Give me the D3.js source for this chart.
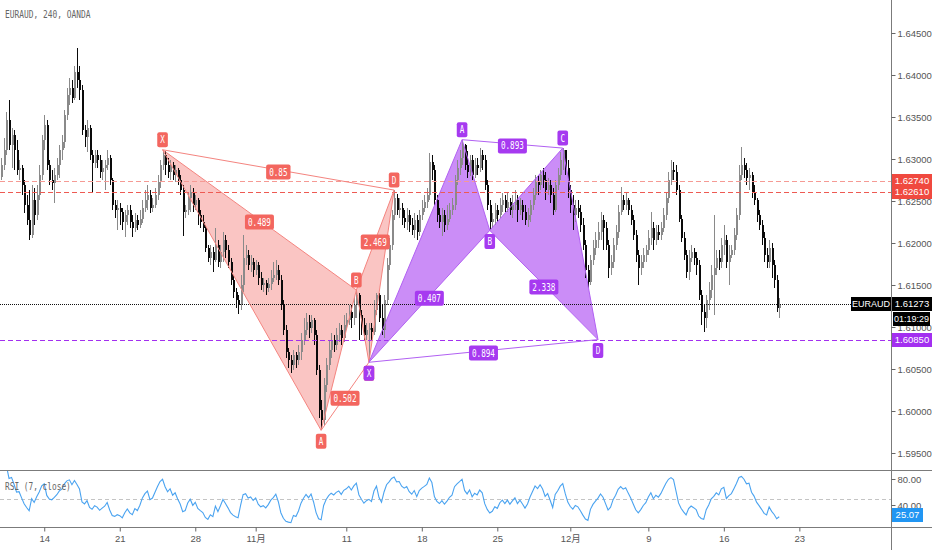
<!DOCTYPE html>
<html><head><meta charset="utf-8">
<script src="https://cdn.jsdelivr.net/npm/d3@7"></script>
<style>
body{margin:0;background:#fff;}
svg{display:block;}
text{font-family:"DejaVu Sans Mono","Noto Sans CJK JP",monospace;}
</style>
</head><body>
<svg id="c" width="932" height="550"></svg>
<script>
// ---------------- DATA ----------------
const symbolTitle = "EURAUD, 240, OANDA";
const firstOpen = 1.6279;
const closes = [
1.6293,1.6311,1.6346,1.6317,1.6329,1.6311,1.6287,1.6289,1.6269,1.6245,
1.6227,1.6209,1.6251,1.6233,1.6257,1.6281,1.6323,1.6340,1.6293,1.6275,
1.6271,1.6281,1.6293,1.6311,1.6320,1.6352,1.6376,1.6385,1.6373,1.6404,
1.6394,1.6382,1.6335,1.6326,1.6337,1.6305,1.6295,1.6305,1.6299,1.6284,
1.6289,1.6293,1.6301,1.6275,1.6245,1.6239,1.6242,1.6237,1.6225,1.6233,
1.6239,1.6225,1.6218,1.6227,1.6221,1.6229,1.6242,1.6251,1.6257,1.6242,
1.6245,1.6257,1.6273,1.6293,1.6305,1.6293,1.6284,1.6293,1.6281,1.6287,
1.6275,1.6263,1.6237,1.6239,1.6253,1.6261,1.6245,1.6251,1.6233,1.6225,
1.6218,1.6194,1.6182,1.6189,1.6180,1.6198,1.6177,1.6189,1.6204,1.6192,
1.6177,1.6156,1.6142,1.6132,1.6126,1.6150,1.6182,1.6186,1.6174,1.6177,
1.6168,1.6174,1.6158,1.6150,1.6152,1.6146,1.6151,1.6158,1.6162,1.6168,
1.6156,1.6126,1.6096,1.6070,1.6061,1.6055,1.6067,1.6061,1.6070,1.6085,
1.6096,1.6106,1.6099,1.6108,1.6090,1.6049,1.6001,1.5989,1.6031,1.6055,
1.6073,1.6085,1.6079,1.6090,1.6096,1.6087,1.6102,1.6108,1.6118,1.6111,
1.6126,1.6138,1.6114,1.6102,1.6090,1.6096,1.6099,1.6094,1.6120,1.6138,
1.6111,1.6096,1.6132,1.6174,1.6198,1.6233,1.6253,1.6239,1.6242,1.6230,
1.6225,1.6233,1.6221,1.6215,1.6227,1.6213,1.6233,1.6242,1.6249,1.6257,
1.6296,1.6287,1.6251,1.6233,1.6225,1.6233,1.6221,1.6229,1.6239,1.6245,
1.6275,1.6289,1.6301,1.6317,1.6293,1.6284,1.6299,1.6281,1.6293,1.6289,
1.6305,1.6299,1.6269,1.6245,1.6225,1.6229,1.6239,1.6233,1.6245,1.6251,
1.6242,1.6249,1.6239,1.6245,1.6251,1.6239,1.6245,1.6237,1.6227,1.6233,
1.6245,1.6257,1.6273,1.6269,1.6281,1.6275,1.6263,1.6269,1.6257,1.6239,
1.6269,1.6281,1.6299,1.6311,1.6289,1.6263,1.6245,1.6233,1.6242,1.6237,
1.6221,1.6198,1.6168,1.6154,1.6180,1.6194,1.6204,1.6213,1.6227,1.6218,
1.6198,1.6170,1.6177,1.6198,1.6213,1.6237,1.6251,1.6245,1.6251,1.6239,
1.6227,1.6209,1.6186,1.6170,1.6177,1.6186,1.6192,1.6206,1.6218,1.6204,
1.6213,1.6209,1.6218,1.6233,1.6253,1.6275,1.6287,1.6284,1.6263,1.6229,
1.6206,1.6186,1.6166,1.6182,1.6189,1.6182,1.6174,1.6138,1.6118,1.6111,
1.6132,1.6144,1.6162,1.6170,1.6182,1.6177,1.6198,1.6204,1.6177,1.6186,
1.6192,1.6209,1.6233,1.6281,1.6293,1.6287,1.6277,1.6281,1.6261,1.6251,
1.6233,1.6221,1.6206,1.6186,1.6177,1.6194,1.6174,1.6156,1.6123,1.61273
];
const highs = [
1.6301,1.6325,1.6356,1.6370,1.6337,1.6335,1.6323,1.6299,1.6293,1.6275,
1.6257,1.6263,1.6269,1.6265,1.6269,1.6293,1.6329,1.6352,1.6346,1.6299,
1.6287,1.6289,1.6301,1.6317,1.6329,1.6358,1.6385,1.6397,1.6394,1.6411,
1.6432,1.6411,1.6388,1.6340,1.6346,1.6340,1.6311,1.6311,1.6311,1.6305,
1.6299,1.6299,1.6311,1.6305,1.6277,1.6251,1.6251,1.6248,1.6242,1.6239,
1.6245,1.6245,1.6233,1.6236,1.6233,1.6239,1.6251,1.6263,1.6269,1.6263,
1.6253,1.6265,1.6281,1.6299,1.6311,1.6309,1.6301,1.6299,1.6296,1.6293,
1.6289,1.6281,1.6269,1.6245,1.6259,1.6269,1.6265,1.6257,1.6253,1.6239,
1.6233,1.6221,1.6198,1.6198,1.6195,1.6218,1.6204,1.6198,1.6213,1.6209,
1.6198,1.6182,1.6162,1.6146,1.6138,1.6162,1.6209,1.6198,1.6192,1.6186,
1.6182,1.6180,1.6177,1.6166,1.6158,1.6156,1.6158,1.6168,1.6177,1.6180,
1.6174,1.6162,1.6132,1.6102,1.6075,1.6067,1.6073,1.6070,1.6079,1.6093,
1.6111,1.6117,1.6114,1.6114,1.6111,1.6096,1.6055,1.6013,1.6039,1.6063,
1.6085,1.6093,1.6090,1.6099,1.6105,1.6102,1.6114,1.6117,1.6126,1.6126,
1.6134,1.6144,1.6140,1.6120,1.6111,1.6105,1.6105,1.6105,1.6132,1.6140,
1.6140,1.6126,1.6138,1.6182,1.6206,1.6239,1.6263,1.6258,1.6253,1.6248,
1.6239,1.6242,1.6239,1.6230,1.6236,1.6233,1.6239,1.6251,1.6257,1.6265,
1.6307,1.6305,1.6293,1.6257,1.6242,1.6242,1.6239,1.6245,1.6248,1.6253,
1.6281,1.6299,1.6311,1.6323,1.6318,1.6309,1.6305,1.6305,1.6301,1.6301,
1.6313,1.6311,1.6305,1.6275,1.6251,1.6236,1.6248,1.6245,1.6253,1.6259,
1.6257,1.6261,1.6253,1.6257,1.6263,1.6257,1.6253,1.6251,1.6245,1.6242,
1.6251,1.6265,1.6281,1.6281,1.6287,1.6289,1.6284,1.6277,1.6275,1.6265,
1.6275,1.6289,1.6308,1.6313,1.6310,1.6299,1.6269,1.6257,1.6251,1.6251,
1.6245,1.6230,1.6204,1.6174,1.6186,1.6204,1.6213,1.6225,1.6237,1.6233,
1.6225,1.6204,1.6186,1.6206,1.6221,1.6245,1.6267,1.6257,1.6259,1.6253,
1.6245,1.6233,1.6215,1.6192,1.6186,1.6194,1.6198,1.6215,1.6237,1.6225,
1.6221,1.6221,1.6225,1.6242,1.6261,1.6284,1.6299,1.6296,1.6293,1.6269,
1.6233,1.6213,1.6192,1.6192,1.6198,1.6194,1.6189,1.6180,1.6144,1.6126,
1.6138,1.6154,1.6174,1.6233,1.6192,1.6192,1.6206,1.6221,1.6209,1.6198,
1.6198,1.6218,1.6242,1.6293,1.6314,1.6301,1.6295,1.6289,1.6284,1.6269,
1.6253,1.6239,1.6227,1.6213,1.6194,1.6204,1.6200,1.6180,1.6162,1.6134
];
const lows = [
1.6275,1.6287,1.6305,1.6311,1.6289,1.6287,1.6281,1.6275,1.6257,1.6236,
1.6221,1.6204,1.6206,1.6221,1.6227,1.6251,1.6275,1.6311,1.6287,1.6269,
1.6263,1.6248,1.6275,1.6277,1.6299,1.6313,1.6346,1.6364,1.6367,1.6370,
1.6385,1.6370,1.6329,1.6314,1.6308,1.6299,1.6261,1.6289,1.6289,1.6277,
1.6275,1.6263,1.6287,1.6269,1.6239,1.6230,1.6215,1.6221,1.6215,1.6207,
1.6221,1.6218,1.6207,1.6213,1.6215,1.6218,1.6224,1.6237,1.6239,1.6236,
1.6237,1.6242,1.6251,1.6265,1.6287,1.6281,1.6277,1.6275,1.6275,1.6273,
1.6269,1.6257,1.6208,1.6230,1.6233,1.6237,1.6237,1.6239,1.6221,1.6218,
1.6213,1.6189,1.6177,1.6174,1.6166,1.6177,1.6171,1.6170,1.6177,1.6182,
1.6170,1.6150,1.6134,1.6123,1.6116,1.6120,1.6142,1.6174,1.6168,1.6166,
1.6160,1.6162,1.6150,1.6144,1.6142,1.6138,1.6142,1.6144,1.6154,1.6156,
1.6150,1.6120,1.6090,1.6063,1.6051,1.6045,1.6049,1.6051,1.6055,1.6061,
1.6079,1.6090,1.6087,1.6093,1.6079,1.6043,1.5992,1.5977,1.5983,1.6023,
1.6049,1.6063,1.6070,1.6073,1.6082,1.6079,1.6082,1.6096,1.6102,1.6099,
1.6102,1.6111,1.6085,1.6090,1.6085,1.6085,1.6058,1.6085,1.6090,1.6114,
1.6106,1.6090,1.6087,1.6126,1.6168,1.6192,1.6227,1.6233,1.6230,1.6221,
1.6218,1.6215,1.6213,1.6209,1.6206,1.6204,1.6208,1.6227,1.6237,1.6242,
1.6251,1.6275,1.6245,1.6225,1.6218,1.6208,1.6213,1.6215,1.6225,1.6233,
1.6239,1.6269,1.6281,1.6293,1.6287,1.6277,1.6280,1.6275,1.6277,1.6281,
1.6284,1.6287,1.6263,1.6239,1.6215,1.6218,1.6221,1.6225,1.6230,1.6237,
1.6237,1.6237,1.6233,1.6230,1.6239,1.6225,1.6233,1.6227,1.6221,1.6219,
1.6225,1.6239,1.6251,1.6257,1.6263,1.6265,1.6251,1.6257,1.6248,1.6233,
1.6237,1.6263,1.6275,1.6287,1.6281,1.6254,1.6236,1.6215,1.6225,1.6230,
1.6213,1.6192,1.6158,1.6146,1.6150,1.6174,1.6186,1.6194,1.6204,1.6192,
1.6192,1.6158,1.6162,1.6170,1.6192,1.6206,1.6233,1.6239,1.6239,1.6233,
1.6221,1.6204,1.6177,1.6150,1.6162,1.6170,1.6177,1.6186,1.6198,1.6192,
1.6198,1.6204,1.6204,1.6213,1.6227,1.6248,1.6269,1.6275,1.6257,1.6225,
1.6201,1.6180,1.6158,1.6156,1.6177,1.6174,1.6162,1.6132,1.6102,1.6094,
1.6099,1.6120,1.6134,1.6114,1.6162,1.6168,1.6170,1.6186,1.6170,1.6150,
1.6182,1.6186,1.6204,1.6227,1.6275,1.6277,1.6269,1.6263,1.6254,1.6245,
1.6225,1.6215,1.6198,1.6177,1.6170,1.6170,1.6158,1.6147,1.6118,1.6111
];
// time axis: candle index of each date label
const timeTickIndex  = [17, 47, 77, 101, 137, 167, 197, 226, 257, 287, 317];
const timeTickLabels = ["14","21","28","11月","11","18","25","12月","9","16","23"];
const priceTicks = [1.645, 1.640, 1.635, 1.630, 1.625, 1.620, 1.615, 1.610, 1.605, 1.600, 1.595];
const rsiTicks = [80, 40];
const rsiPeriod = 7;
const rsiMidLevel = 50;
const rsiLastValue = 25.07;
const rsiTitle = "RSI (7, close)";
const redLevels = [1.62740, 1.62610];
const purpleLevels = [1.60850];
const lastPrice = 1.61273;
const lastPriceName = "EURAUD";
const countdown = "01:19:29";
// harmonic patterns: candle index + price of each pivot
const redNames  = ["X","A","B","C","D"];
const redIdx    = [64, 127, 141, 146, 156];
const redPrice  = [1.6311, 1.5977, 1.6144, 1.6058, 1.6263];
const redRatios = {XB:"0.489", AC:"0.502", BD:"2.469", XD:"0.85"};
const purNames  = ["X","A","B","C","D"];
const purIdx    = [146, 183, 194, 223, 237];
const purPrice  = [1.6058, 1.6323, 1.6215, 1.6313, 1.6085];
const purRatios = {XB:"0.407", AC:"0.893", BD:"2.338", XD:"0.894"};

// ---------------- CHART ----------------
const svg = d3.select("#c");
const W = 932, H = 550, axisX = 891, mainBottom = 470, rsiBottom = 527;
const x = d3.scaleLinear().domain([0, 317]).range([1.46, 1.46 + 317 * 2.517]);
const y = d3.scaleLinear().domain([1.595, 1.645]).range([453, 33]);
const yR = d3.scaleLinear().domain([40, 80]).range([505, 479]);
const AXIS_FONT = "'Liberation Sans','Noto Sans CJK JP',sans-serif";

const tlen = (s, cw) => Array.from(s).reduce((a, ch) => a + (ch.charCodeAt(0) > 255 ? 6 : cw), 0);
function fitText(sel, cw = 4.6) {
  sel.each(function() {
    const t = d3.select(this).text();
    d3.select(this).attr("textLength", tlen(t, cw)).attr("lengthAdjust", "spacingAndGlyphs");
  });
}

const defs = svg.append("defs");
defs.append("clipPath").attr("id", "clipMain").append("rect").attr("x", 0).attr("y", 0).attr("width", axisX).attr("height", mainBottom);
defs.append("clipPath").attr("id", "clipRsi").append("rect").attr("x", 0).attr("y", mainBottom + 1).attr("width", axisX).attr("height", rsiBottom - mainBottom - 1);

const main = svg.append("g").attr("clip-path", "url(#clipMain)");

const candles = closes.map((c, i) => {
  const o = i === 0 ? firstOpen : closes[i - 1];
  return {i, o, c, h: Math.max(highs[i], o, c), l: Math.min(lows[i], o, c)};
});

const RED = {fill: "rgba(242,110,104,0.40)", line: "#f4847f", box: "#f3665f"};
const PUR = {fill: "rgba(166,58,242,0.58)", line: "#b160f2", box: "#a63af0"};

function pts(idx, price) { return idx.map((d, k) => [x(d), y(price[k])]); }

// pattern fills (below candles)
function drawFills(idx, price, col) {
  const p = pts(idx, price);
  [[0,1,2],[2,3,4]].forEach(tri => {
    main.append("path").attr("d", d3.line()(tri.map(k => p[k])) + "Z")
      .attr("fill", col.fill).attr("stroke", "none");
  });
}
drawFills(redIdx, redPrice, RED);
drawFills(purIdx, purPrice, PUR);

// candles
const cg = main.append("g").attr("shape-rendering", "crispEdges");
candles.forEach(d => {
  const up = d.c >= d.o;
  const col = up ? "#8a8a8a" : "#0a0a0a";
  const cx = Math.round(x(d.i));
  cg.append("line").attr("x1", cx + 0.5).attr("x2", cx + 0.5)
    .attr("y1", y(d.h)).attr("y2", y(d.l)).attr("stroke", col).attr("stroke-width", 1);
  const yt = Math.min(y(d.o), y(d.c)), yb = Math.max(y(d.o), y(d.c));
  cg.append("rect").attr("x", cx - 0.5).attr("width", 2)
    .attr("y", yt).attr("height", Math.max(1, yb - yt)).attr("fill", col);
});

// horizontal levels
redLevels.forEach((lv, k) => {
  main.append("line").attr("x1", 0).attr("x2", axisX).attr("y1", Math.round(y(lv)) + 0.5).attr("y2", Math.round(y(lv)) + 0.5)
    .attr("stroke", k === 0 ? "#f59a94" : "#ee5a52").attr("stroke-width", 1).attr("stroke-dasharray", "5,3");
});
purpleLevels.forEach(lv => {
  main.append("line").attr("x1", 0).attr("x2", axisX).attr("y1", Math.round(y(lv)) + 0.5).attr("y2", Math.round(y(lv)) + 0.5)
    .attr("stroke", "#a32ff0").attr("stroke-width", 1).attr("stroke-dasharray", "5,3");
});
main.append("line").attr("x1", 0).attr("x2", 851).attr("y1", Math.round(y(lastPrice)) + 0.5).attr("y2", Math.round(y(lastPrice)) + 0.5)
  .attr("stroke", "#111").attr("stroke-width", 1).attr("stroke-dasharray", "1,1");

// pattern lines and labels
function drawPattern(names, idx, price, ratios, col) {
  const p = pts(idx, price);
  const seg = (a, b) => main.append("line").attr("x1", p[a][0]).attr("y1", p[a][1]).attr("x2", p[b][0]).attr("y2", p[b][1])
    .attr("stroke", col.line).attr("stroke-width", 1);
  [[0,1],[1,2],[2,3],[3,4],[0,2],[2,4],[1,3],[0,4]].forEach(s => seg(s[0], s[1]));
  const box = (cx, cy, txt) => {
    const w = tlen(txt, 4.6) + 6;
    main.append("rect").attr("x", cx - w / 2).attr("y", cy - 7.5).attr("width", w).attr("height", 15)
      .attr("rx", 2).attr("fill", col.box);
    main.append("text").attr("x", cx).attr("y", cy).attr("dy", "0.36em").attr("text-anchor", "middle")
      .attr("fill", "#fff").style("font-size", "10px").text(txt).call(fitText, 4.6);
  };
  const mid = (a, b) => [(p[a][0] + p[b][0]) / 2, (p[a][1] + p[b][1]) / 2];
  const m = {XB: mid(0, 2), AC: mid(1, 3), BD: mid(2, 4), XD: mid(0, 4)};
  Object.keys(ratios).forEach(k => box(m[k][0], m[k][1] + 2, ratios[k]));
  names.forEach((nm, k) => {
    const isHigh = (k === 0 ? price[0] > price[1] : price[k] > price[k - 1]);
    box(p[k][0], p[k][1] + (isHigh ? -10 : 11), nm);
  });
}
drawPattern(redNames, redIdx, redPrice, redRatios, RED);
drawPattern(purNames, purIdx, purPrice, purRatios, PUR);

// ---- RSI ----
function computeRsi(cl, n) {
  const out = [null];
  let ag = 0, al = 0;
  for (let i = 1; i < cl.length; i++) {
    const ch = cl[i] - cl[i - 1];
    const g = Math.max(ch, 0), l = Math.max(-ch, 0);
    if (i === 1) { ag = g; al = l; }
    else { ag = (ag * (n - 1) + g) / n; al = (al * (n - 1) + l) / n; }
    out.push(al === 0 ? 100 : 100 - 100 / (1 + ag / al));
  }
  return out;
}
const rsi = computeRsi(closes, rsiPeriod);
const rg = svg.append("g").attr("clip-path", "url(#clipRsi)");
rg.append("line").attr("x1", 0).attr("x2", axisX).attr("y1", Math.round(yR(rsiMidLevel)) + 0.5).attr("y2", Math.round(yR(rsiMidLevel)) + 0.5)
  .attr("stroke", "#c4c4c4").attr("stroke-dasharray", "4,3");
rg.append("path").datum(rsi.map((v, i) => [i, v]).filter(d => d[1] !== null))
  .attr("d", d3.line().x(d => x(d[0])).y(d => yR(d[1])))
  .attr("fill", "none").attr("stroke", "#4aa3f0").attr("stroke-width", 1.1);
svg.append("text").attr("x", 5).attr("y", 486).attr("dy", "0.36em").attr("fill", "#666")
  .style("font-size", "10px").text(rsiTitle).call(fitText, 4.7);

// ---- frame lines ----
svg.append("line").attr("x1", 0).attr("x2", W).attr("y1", mainBottom + 0.5).attr("y2", mainBottom + 0.5).attr("stroke", "#7b7b7b");
svg.append("line").attr("x1", 0).attr("x2", W).attr("y1", rsiBottom + 0.5).attr("y2", rsiBottom + 0.5).attr("stroke", "#7b7b7b");
svg.append("line").attr("x1", axisX + 0.5).attr("x2", axisX + 0.5).attr("y1", 0).attr("y2", H).attr("stroke", "#7b7b7b");

// ---- axes ----
function styleAxis(g) {
  g.select(".domain").remove();
  g.selectAll(".tick line").attr("stroke", "#666");
  g.selectAll(".tick text").attr("fill", "#555").style("font-size", "9.5px").style("font-family", AXIS_FONT);
}
svg.append("g").attr("transform", `translate(${axisX + 0.5},0)`)
  .call(d3.axisRight(y).tickValues(priceTicks).tickFormat(d3.format(".5f")).tickSize(4).tickPadding(2)).call(styleAxis);
svg.append("g").attr("transform", `translate(${axisX + 0.5},0)`)
  .call(d3.axisRight(yR).tickValues(rsiTicks).tickFormat(d3.format(".2f")).tickSize(4).tickPadding(2)).call(styleAxis);
svg.append("g").attr("transform", `translate(0,${rsiBottom + 0.5})`)
  .call(d3.axisBottom(x).tickValues(timeTickIndex).tickFormat((d, i) => timeTickLabels[i]).tickSize(4).tickPadding(4)).call(styleAxis);

// ---- axis value boxes ----
function axisBox(x0, w, cy, txt, bg, fs = 9.5) {
  svg.append("rect").attr("x", x0).attr("y", Math.round(cy) - 7).attr("width", w).attr("height", 14).attr("fill", bg);
  svg.append("text").attr("x", x0 + w / 2).attr("y", Math.round(cy)).attr("dy", "0.36em").attr("text-anchor", "middle")
    .attr("fill", "#fff").style("font-size", fs + "px").style("font-family", AXIS_FONT).text(txt);
}
const fmt5 = d3.format(".5f");
redLevels.forEach(lv => axisBox(axisX + 1, W - axisX - 1, y(lv), fmt5(lv), "#f0493f"));
purpleLevels.forEach(lv => axisBox(axisX + 1, W - axisX - 1, y(lv), fmt5(lv), "#a32ff0"));
axisBox(851, 40, y(lastPrice), lastPriceName, "#000", 9);
axisBox(axisX + 1, W - axisX - 1, y(lastPrice), fmt5(lastPrice), "#000");
axisBox(893, 37, y(lastPrice) + 15, countdown, "#000", 9);
axisBox(axisX + 1, 31, yR(rsiLastValue), rsiLastValue.toFixed(2), "#2196f3");

// title
svg.append("text").attr("x", 5).attr("y", 14).attr("dy", "0.36em").attr("fill", "#666")
  .style("font-size", "10px").text(symbolTitle).call(fitText, 4.75);
</script>
</body></html>
